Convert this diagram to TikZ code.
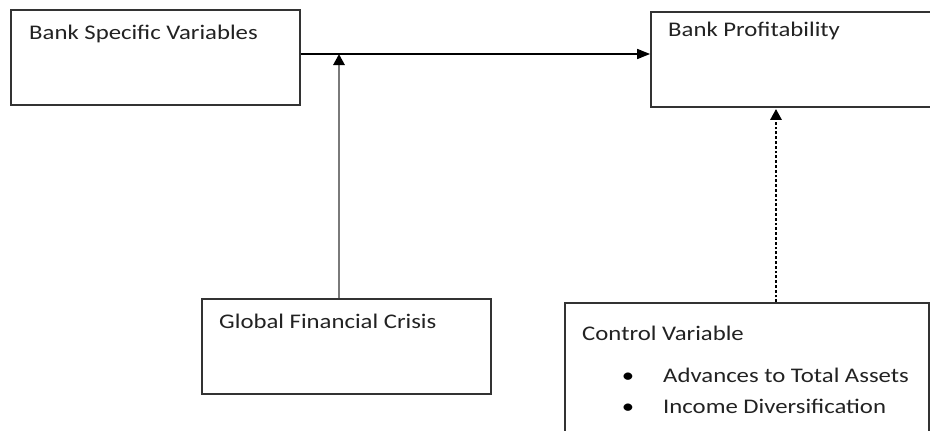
\documentclass[tikz,border=0pt]{standalone}
\usepackage{fontspec}
\setmainfont{Carlito}
\usetikzlibrary{arrows.meta}
\definecolor{boxline}{HTML}{333333}
\definecolor{txt}{HTML}{222222}
\definecolor{greyarrow}{HTML}{7A7A7A}
\begin{document}
\begin{tikzpicture}[x=1pt,y=-1pt,
  box/.style={draw=boxline,line width=1.8pt,inner sep=0pt,rectangle},
  lbl/.style={anchor=base west,inner sep=0pt,text=txt,font=\fontsize{20.8}{24}\selectfont,xscale=1.19,transform shape},
  blt/.style={anchor=base,inner sep=0pt,text=black,font=\fontsize{20.8}{24}\selectfont,xscale=1.19,transform shape},
  tip/.style={-{Triangle[length=13pt,width=10pt]}}]
\clip (0,0) rectangle (930,431);
\fill[white] (0,0) rectangle (930,431);
% boxes
\node[box,minimum width=289pt,minimum height=95pt] (bsv) at (155.5,57.5) {};
\node[box,minimum width=300pt,minimum height=95pt] (bp) at (801,59.5) {};
\node[box,minimum width=289pt,minimum height=95pt] (gfc) at (346.5,346.5) {};
\node[box,minimum width=364pt,minimum height=145pt] (cv) at (747,375.5) {};
% texts
\node[lbl] (t1) at (29,39) {Bank Specific Variables};
\node[lbl] (t2) at (668,36) {Bank Profitability};
\node[lbl] (t3) at (219,328) {Global Financial Crisis};
\node[lbl] (t4) at (582,340) {Control Variable};
\node[blt] (b1) at (628,382) {•};
\node[blt] (b2) at (628,413) {•};
\node[lbl] (t5) at (663,382) {Advances to Total Assets};
\node[lbl] (t6) at (663,413) {Income Diversification};
% connectors
\coordinate (h) at (339,54);
\coordinate (d) at (776,0);
\draw[black,line width=1.6pt,tip] (bsv.east |- h) -- (bp.west |- h);
\draw[greyarrow,line width=2.8pt,-{Triangle[length=11pt,width=11pt,fill=black,color=black]}] (gfc.north -| h) -- (h);
\draw[black,line width=2.8pt,dotted,-{Triangle[length=11pt,width=11pt,sep=1pt]}] (cv.north -| d) -- (bp.south -| d);
\end{tikzpicture}
\end{document}
